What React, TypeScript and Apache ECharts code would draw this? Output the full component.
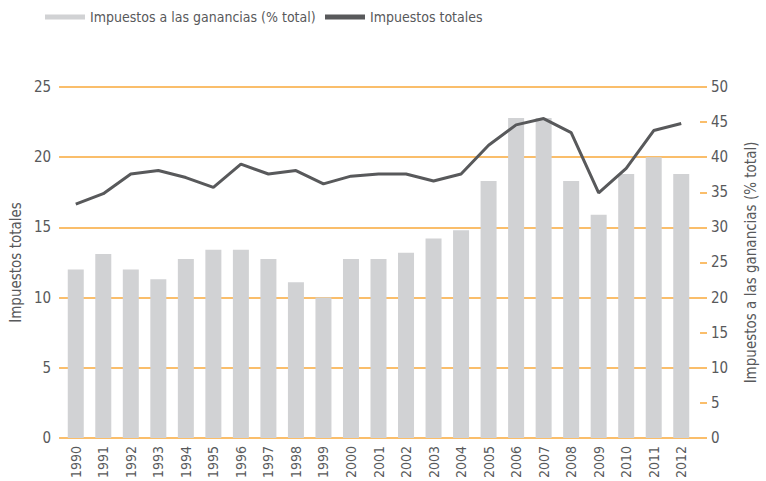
import React, { useEffect, useRef } from "react";
import * as echarts from "echarts";

const years = ["1990","1991","1992","1993","1994","1995","1996","1997","1998","1999","2000","2001","2002","2003","2004","2005","2006","2007","2008","2009","2010","2011","2012"];
const gananciasValues = [12.0,13.1,12.0,11.3,12.75,13.4,13.4,12.75,11.1,10.0,12.75,12.75,13.2,14.2,14.8,18.3,22.8,22.8,18.3,15.9,18.8,20.0,18.8];
const totalesValues = [33.3,34.8,37.6,38.1,37.1,35.7,39.0,37.6,38.1,36.2,37.3,37.6,37.6,36.6,37.6,41.7,44.6,45.5,43.5,34.9,38.4,43.8,44.8];
const leftTicks = { min: 0, max: 25, interval: 5 };
const rightTicks = { min: 0, max: 50, interval: 5 };

const FONT = "'DejaVu Sans Condensed', 'Liberation Sans Narrow', sans-serif";
const TEXT = "#58595b";
const ORANGE = "#f9a83a";

export default function App() {
  const ref = useRef<HTMLDivElement>(null);
  useEffect(() => {
    if (!ref.current) return;
    const chart = echarts.init(ref.current, undefined, { renderer: "svg" });
    chart.setOption({
      animation: false,
      textStyle: { fontFamily: FONT, color: TEXT },
      legend: [
        {
          left: 40, top: 5, icon: "rect", itemWidth: 40, itemHeight: 5, itemGap: 8,
          textStyle: { fontFamily: FONT, fontSize: 14, color: TEXT },
          data: ["Impuestos a las ganancias (% total)"],
        },
        {
          left: 320, top: 5, icon: "rect", itemWidth: 40, itemHeight: 5,
          textStyle: { fontFamily: FONT, fontSize: 14, color: TEXT },
          data: ["Impuestos totales"],
        },
      ],
      grid: [
        { left: 53, right: 66, top: 87, bottom: 43 },
        { left: 62, right: 69, top: 87, bottom: 43 },
      ],
      xAxis: [
        { gridIndex: 0, type: "value", min: 0, max: 1, show: false },
        {
          gridIndex: 1, type: "category", data: years,
          axisLine: { show: false }, axisTick: { show: false },
          axisLabel: { rotate: 90, margin: 8, fontSize: 14, color: TEXT, fontFamily: FONT },
        },
      ],
      yAxis: [
        {
          gridIndex: 0, type: "value", ...leftTicks,
          name: "Impuestos totales", nameLocation: "middle", nameGap: 30,
          nameTextStyle: { fontSize: 15, color: TEXT, fontFamily: FONT },
          axisLine: { show: false }, axisTick: { show: false },
          axisLabel: { margin: 8, fontSize: 15, color: TEXT, fontFamily: FONT },
          splitLine: { show: true, lineStyle: { color: ORANGE, width: 1.5 } },
        },
        {
          gridIndex: 1, type: "value", ...leftTicks, show: false,
          splitLine: { show: false },
        },
        {
          gridIndex: 1, type: "value", position: "right", offset: 5, ...rightTicks,
          name: "Impuestos a las ganancias (% total)", nameLocation: "middle", nameGap: 43,
          nameRotate: 90,
          nameTextStyle: { fontSize: 15, color: TEXT, fontFamily: FONT },
          axisLine: { show: false },
          axisTick: { show: true, length: 7, lineStyle: { color: ORANGE, width: 1.5 } },
          axisLabel: { margin: 11, fontSize: 15, color: TEXT, fontFamily: FONT },
          splitLine: { show: false },
        },
      ],
      series: [
        {
          name: "Impuestos a las ganancias (% total)", type: "bar",
          xAxisIndex: 1, yAxisIndex: 1, data: gananciasValues,
          barWidth: 16, itemStyle: { color: "#d1d2d4" },
        },
        {
          name: "Impuestos totales", type: "line",
          xAxisIndex: 1, yAxisIndex: 2, data: totalesValues,
          symbol: "none", lineStyle: { color: "#58595b", width: 3 },
          itemStyle: { color: "#58595b" },
        },
      ],
    });
    return () => chart.dispose();
  }, []);
  return <div ref={ref} style={{ width: 766, height: 481, position: "absolute", left: 0, top: 0 }} />;
}
